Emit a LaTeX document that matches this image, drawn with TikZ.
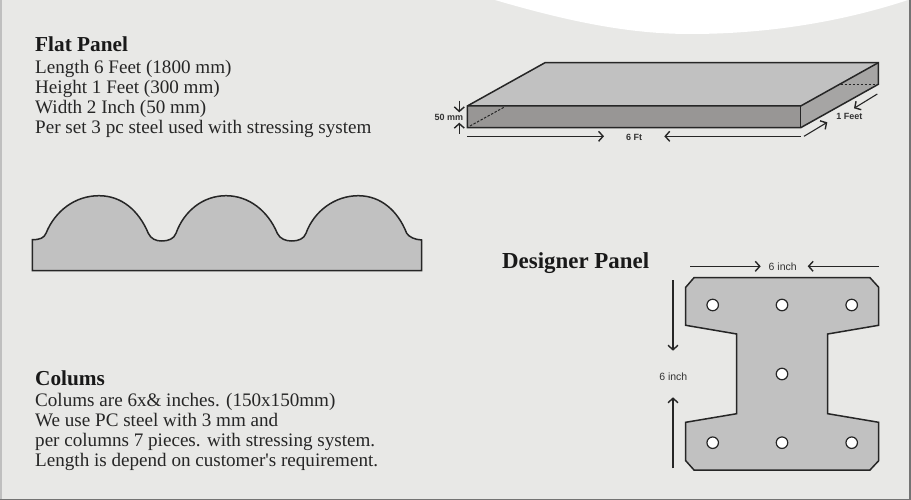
\documentclass[tikz,border=0pt]{standalone}
\usepackage{fontspec}
\setmainfont{Liberation Serif}
\setsansfont{Liberation Sans}
\usetikzlibrary{arrows.meta}
\definecolor{sheet}{HTML}{E8E8E6}
\definecolor{panel}{HTML}{C1C1C1}
\definecolor{frontface}{HTML}{989695}
\definecolor{sideface}{HTML}{A6A5A4}
\definecolor{ink}{HTML}{262626}
\tikzset{
	outline/.style={draw=ink, line width=1.5pt, line join=miter},
	dim/.style={draw=ink, line width=1.1pt, -{Straight Barb[length=4.5pt,width=10pt,line width=1.4pt]}},
	heading/.style={anchor=base west, inner sep=0pt, font=\fontsize{21.3}{21.3}\selectfont\bfseries, text=black!90},
	bodytext/.style={anchor=base west, inner sep=0pt, font=\fontsize{19.1}{19.1}\selectfont, text=black!85},
	dimbold/.style={inner sep=0pt, font=\sffamily\bfseries\fontsize{9}{9}\selectfont, text=black!80},
	dimlabel/.style={inner sep=0pt, font=\sffamily\fontsize{10.5}{10.5}\selectfont, text=black!80},
	hole/.style={circle, draw=ink, line width=1.2pt, fill=white, minimum size=11.5pt, inner sep=0pt}
}
\begin{document}
\begin{tikzpicture}[x=1pt, y=-1pt]
\useasboundingbox (0,0) rectangle (911,500);
\fill[sheet] (0,0) rectangle (911,500);
\fill[white] (495,0) .. controls (570,22) and (630,34) .. (690,34) .. controls (760,34) and (835,24) .. (908,0) -- cycle;
\fill[black!25] (0,0) rectangle (2,500);
\fill[black!55] (909,0) rectangle (911,500);
\fill[black!55] (0,498.5) rectangle (911,500);

% flat panel text
\node[heading] (flattitle) at (35,52) {Flat Panel};
\node[bodytext] (flatlen) at (35,73.5) {Length 6 Feet (1800 mm)};
\node[bodytext] (flatheight) at (35,93.5) {Height 1 Feet (300 mm)};
\node[bodytext] (flatwidth) at (35,113.5) {Width 2 Inch (50 mm)};
\node[bodytext] (flatset) at (35,133.5) {Per set 3 pc steel used with stressing system};

% slab
\fill[panel] (467.3,106) -- (545,62.7) -- (878.3,62.7) -- (800.7,106) -- cycle;
\fill[frontface] (467.3,106) rectangle (800.7,127.7);
\fill[sideface] (800.7,106) -- (878.3,62.7) -- (878.3,84.3) -- (800.7,127.7) -- cycle;
\draw[outline] (467.3,106) -- (545,62.7) -- (878.3,62.7) -- (878.3,84.3) -- (800.7,127.7) -- (467.3,127.7) -- cycle;
\draw[outline] (467.3,106) -- (800.7,106) -- (878.3,62.7);
\draw[outline] (800.7,106) -- (800.7,127.7);
\draw[ink, line width=1pt, dash pattern=on 2.5pt off 1.5pt] (470,126) -- (505,106.7);
\draw[ink, line width=1pt, dash pattern=on 2.5pt off 1.5pt] (840.7,84.3) -- (878.3,84.3);

\node[dimbold] (sixft) at (634,137) {6 Ft};
\draw[dim] (467.3,136.3) -- (604,136.3);
\draw[dim] (800.7,136.3) -- (664.3,136.3);
\node[dimbold] (fiftymm) at (449,117.3) {50 mm};
\draw[dim] (459.3,100.7) -- (459.3,112.3);
\draw[dim] (459.3,134) -- (459.3,122.7);
\node[dimbold] (onefeet) at (849.3,116) {1 Feet};
\draw[dim] (804,136.3) -- (827.3,122.3);
\draw[dim] (877.3,94) -- (854,108.3);

% wave profile
\filldraw[panel, outline] (32.3,270.7) -- (32.3,239.7) .. controls (40,239.7) and (44,238) .. (46,233.3)
	.. controls (55,211) and (75,195.7) .. (99,195.7)
	.. controls (122,195.7) and (139,211) .. (148.3,233.3)
	.. controls (151,239) and (156,241) .. (161.7,241)
	.. controls (168,241) and (174,239) .. (176,233.3)
	.. controls (184,211) and (203,195.7) .. (226,195.7)
	.. controls (249,195.7) and (268,211) .. (277.3,233.3)
	.. controls (280,239) and (286,241) .. (291.7,241)
	.. controls (298,241) and (304,239) .. (306,233.3)
	.. controls (314,211) and (335,195.7) .. (358.3,195.7)
	.. controls (381,195.7) and (398,211) .. (406.7,233.3)
	.. controls (409,237) and (415,239.7) .. (421.7,240)
	-- (421.7,270.7) -- cycle;

% designer panel
\node[heading, font=\fontsize{22.9}{22.9}\selectfont\bfseries] (designertitle) at (502,268.5) {Designer Panel};
\filldraw[panel, outline] (694,277.7) -- (870,277.7) -- (878.7,287.3) -- (878.7,325.3) -- (827.7,334)
	-- (827.7,413.7) -- (878.7,422.3) -- (878.7,460.7) -- (870,470) -- (694,470) -- (685.7,460.7)
	-- (685.7,422.3) -- (736.7,413.7) -- (736.7,334) -- (685.7,325.3) -- (685.7,287.3) -- cycle;
\foreach \hx/\hy/\hname in {712.7/305/a, 782/305/b, 851.7/305/c, 782/374/d, 712.7/442.7/e, 782/442.7/f, 851.7/442.7/g}
	\node[hole] (hole\hname) at (\hx,\hy) {};

\node[dimlabel] (topinch) at (782.7,266.7) {6 inch};
\draw[dim] (690,266.3) -- (760.7,266.3);
\draw[dim] (878.7,266.3) -- (807.7,266.3);
\node[dimlabel] (sideinch) at (673.3,376.7) {6 inch};
\draw[dim] (673,280) -- (673,350.7);
\draw[dim] (673,468.3) -- (673,397.3);

% colums text
\node[heading] (columtitle) at (35,385.5) {Colums};
\node[bodytext] (columsize) at (35,406.5) {Colums are 6x\& inches. (150x150mm)};
\node[bodytext] (columsteel) at (35,426.5) {We use PC steel with 3 mm and};
\node[bodytext] (columpieces) at (35,446.5) {per columns 7 pieces. with stressing system.};
\node[bodytext] (columlength) at (35,466.5) {Length is depend on customer\textquotesingle s requirement.};
\end{tikzpicture}
\end{document}
